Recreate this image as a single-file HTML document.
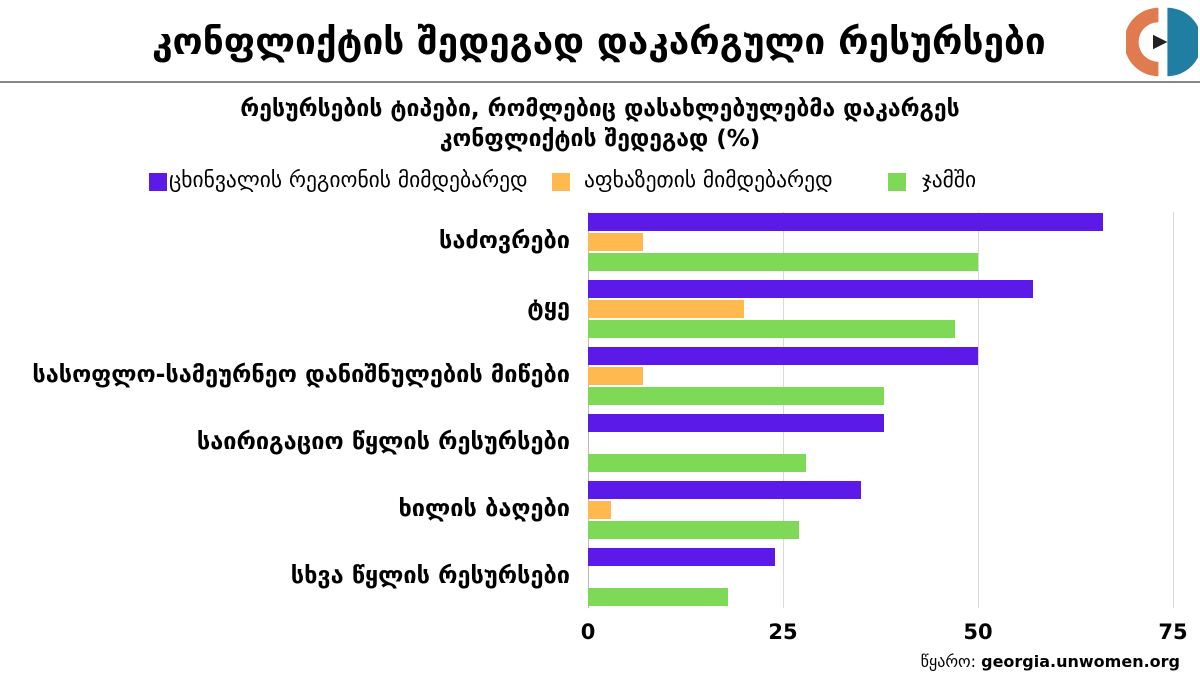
<!DOCTYPE html>
<html><head><meta charset="utf-8"><style>
body{margin:0;width:1200px;height:676px;background:#fff;overflow:hidden;font-family:"DejaVu Sans","Liberation Sans",sans-serif;position:relative;color:#000}
.t{position:absolute;white-space:nowrap}
.bar{position:absolute;height:18px}
.p{background:#5b1ae8}.o{background:#ffb94f}.g{background:#7ed957}
.grid{position:absolute;top:212px;height:396px;width:1px;background:#d9d9d9}
.lab{position:absolute;right:630px;font-weight:bold;font-size:23.5px;white-space:nowrap;text-align:right}
.tick{position:absolute;top:620px;font-size:21px;font-weight:bold;transform:translateX(-50%)}
</style></head><body>
<div class="t" style="left:152px;top:20px;font-size:37px;font-weight:bold">კონფლიქტის შედეგად დაკარგული რესურსები</div>
<div style="position:absolute;left:0;top:81px;width:1200px;height:2px;background:#888"></div>
<svg style="position:absolute;left:1126px;top:6px" width="72" height="72" viewBox="0 0 80 80">
<path d="M36 2 A38 38 0 0 0 36 78 L36 62 A22 22 0 0 1 36 18 Z" fill="#e07a4f"/>
<path d="M46 2 A38 38 0 0 1 46 78 Z" fill="#1f7ea1"/>
<path d="M30 32 L46 40 L30 48 Z" fill="#222"/>
</svg>
<div class="t" style="left:0;width:1200px;top:94px;text-align:center;font-size:23px;font-weight:bold;line-height:30px">რესურსების ტიპები, რომლებიც დასახლებულებმა დაკარგეს<br>კონფლიქტის შედეგად (%)</div>
<div style="position:absolute;left:149px;top:173px;width:18px;height:18px" class="p"></div>
<div class="t" style="left:169px;top:168px;font-size:21.5px">ცხინვალის რეგიონის მიმდებარედ</div>
<div style="position:absolute;left:552px;top:173px;width:18px;height:18px" class="o"></div>
<div class="t" style="left:584px;top:168px;font-size:21.5px">აფხაზეთის მიმდებარედ</div>
<div style="position:absolute;left:888px;top:173px;width:18px;height:18px" class="g"></div>
<div class="t" style="left:922px;top:168px;font-size:21.5px">ჯამში</div>
<div class="grid" style="left:588px;background:#bbb"></div>
<div class="grid" style="left:783px"></div>
<div class="grid" style="left:978px"></div>
<div class="grid" style="left:1173px"></div>
<div id="bars"></div>
<div class="tick" style="left:588px">0</div>
<div class="tick" style="left:783px">25</div>
<div class="tick" style="left:978px">50</div>
<div class="tick" style="left:1173px">75</div>
<div class="t" style="right:20px;top:652px;font-size:16px">წყარო: <b>georgia.unwomen.org</b></div>
<script>
var d=[["საძოვრები",66,7,50],["ტყე",57,20,47],["სასოფლო-სამეურნეო დანიშნულების მიწები",50,7,38],["საირიგაციო წყლის რესურსები",38,0,28],["ხილის ბაღები",35,3,27],["სხვა წყლის რესურსები",24,0,18]];
var h="";d.forEach(function(r,i){var y=213+i*67;
h+='<div class="lab" style="top:'+(y+13)+'px">'+r[0]+'</div>';
["p","o","g"].forEach(function(c,j){if(r[j+1]>0)h+='<div class="bar '+c+'" style="left:588px;top:'+(y+j*20)+'px;width:'+(r[j+1]*7.8)+'px"></div>';});});
document.getElementById("bars").innerHTML=h;
</script>
</body></html>
